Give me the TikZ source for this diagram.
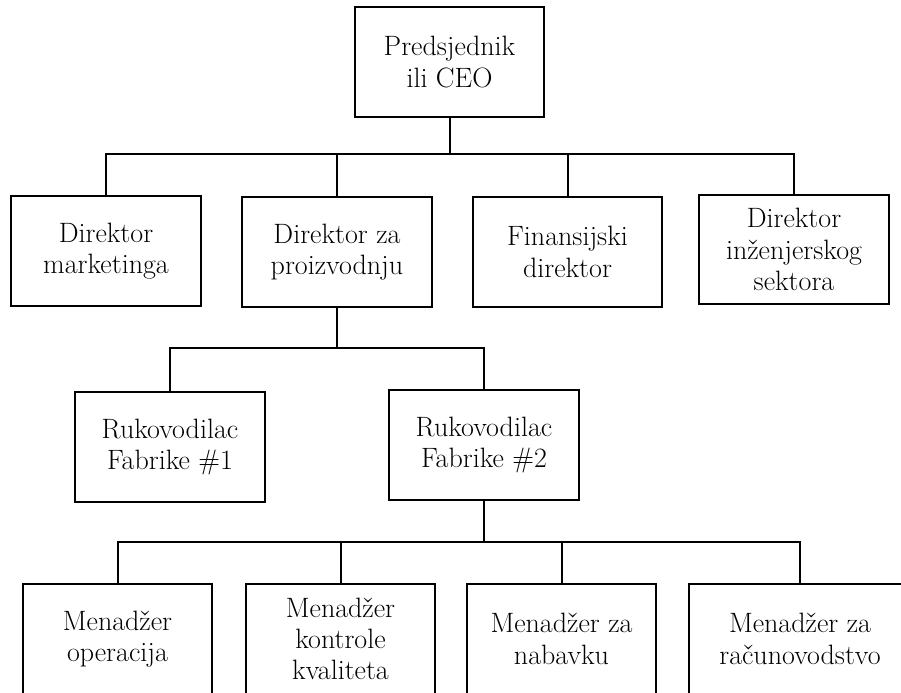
\documentclass[tikz,border=0pt]{standalone}
\begin{document}
\begin{tikzpicture}[x=0.75pt,y=-0.75pt,
  box/.style={draw=black, line width=1.6pt, rectangle, align=center,
    minimum width=190*0.75pt, minimum height=110*0.75pt, inner sep=0pt,
    font=\fontsize{21}{23.5}\selectfont},
  conn/.style={draw=black, line width=1.5pt}]
\useasboundingbox (0,0) rectangle (901,693);
\clip (0,0) rectangle (901,693);
% level 0
\node[box, minimum width=189*0.75pt] (ceo) at (449.5,62) {Predsjednik\\ili CEO};
% level 1
\node[box] (d1) at (106,251) {Direktor\\marketinga};
\node[box] (d2) at (337,252) {Direktor za\\proizvodnju};
\node[box, minimum width=189*0.75pt] (d3) at (567.5,252) {Finansijski\\direktor};
\node[box, minimum height=109*0.75pt] (d4) at (794,249.5) {Direktor\\in\v{z}enjerskog\\sektora};
% level 2
\node[box] (r1) at (170,447) {Rukovodilac\\Fabrike \#1};
\node[box] (r2) at (484,445) {Rukovodilac\\Fabrike \#2};
% level 3
\node[box, minimum width=189*0.75pt] (m1) at (117.5,639) {Menad\v{z}er\\operacija};
\node[box, minimum width=189*0.75pt] (m2) at (340.5,639) {Menad\v{z}er\\kontrole\\kvaliteta};
\node[box, minimum width=189*0.75pt] (m3) at (561.5,639) {Menad\v{z}er za\\nabavku};
\node[box, minimum width=222*0.75pt] (m4) at (800,639) {Menad\v{z}er za\\ra\v{c}unovodstvo};
% buses
\coordinate (b1) at (449.5,154);
\coordinate (b2) at (337,348);
\coordinate (b3) at (484,542);
% connectors level 0 -> 1
\draw[conn] (ceo.south) -- (b1);
\draw[conn] (d1.north) -- (d1.north |- b1) -- (d4.north |- b1) -- (d4.north);
\draw[conn] (d2.north) -- (d2.north |- b1);
\draw[conn] (d3.north) -- (d3.north |- b1);
% connectors level 1 -> 2
\draw[conn] (d2.south) -- (b2);
\draw[conn] (r1.north) -- (r1.north |- b2) -- (r2.north |- b2) -- (r2.north);
% connectors level 2 -> 3
\draw[conn] (r2.south) -- (b3);
\draw[conn] (m1.north) -- (m1.north |- b3) -- (m4.north |- b3) -- (m4.north);
\draw[conn] (m2.north) -- (m2.north |- b3);
\draw[conn] (m3.north) -- (m3.north |- b3);
\end{tikzpicture}
\end{document}
